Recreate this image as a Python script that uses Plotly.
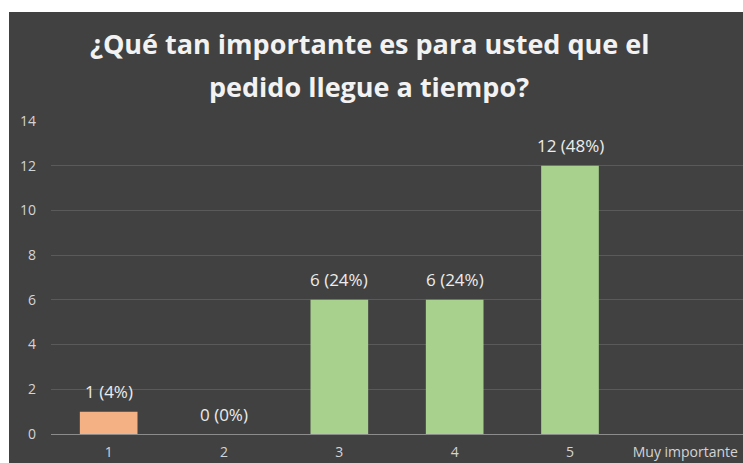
import plotly.graph_objects as go

categories = ["1", "2", "3", "4", "5", "Muy importante"]
values = [1, 0, 6, 6, 12, None]
percents = [4, 0, 24, 24, 48, None]
bar_colors = ["#F4B183", "#A9D18E", "#A9D18E", "#A9D18E", "#A9D18E", "#A9D18E"]
title_lines = ["¿Qué tan importante es para usted que el", "pedido llegue a tiempo?"]
y_ticks = [0, 2, 4, 6, 8, 10, 12, 14]

W, H = 743, 463
ML, MR, MT, MB = 51, 0, 121, 29
PW, PH = W - ML - MR, H - MT - MB

fig = go.Figure()
fig.add_trace(go.Bar(
    x=categories, y=values, marker=dict(color=bar_colors, line=dict(width=0)),
    width=0.5, hoverinfo="skip", showlegend=False,
))

annotations = []
for i, (v, p) in enumerate(zip(values, percents)):
    if v is None:
        continue
    annotations.append(dict(
        x=i, y=v, xref="x", yref="y", text=f"{v} ({p}%)", showarrow=False,
        yanchor="middle", yshift=20,
        font=dict(family="Open Sans", size=17, color="#ececec"),
    ))

title_y_px = [43, 87]
for line, ypx in zip(title_lines, title_y_px):
    annotations.append(dict(
        x=(369 - ML) / PW, y=(H - MB - ypx) / PH, xref="paper", yref="paper",
        text=f"<b>{line}</b>", showarrow=False, xanchor="center", yanchor="middle",
        font=dict(family="Open Sans", size=27, color="#f2f2f2"),
    ))

fig.update_layout(
    width=W, height=H,
    margin=dict(l=ML, r=MR, t=MT, b=MB, pad=0),
    paper_bgcolor="#ffffff",
    plot_bgcolor="rgba(0,0,0,0)",
    bargap=0.5,
    annotations=annotations,
    shapes=[dict(
        type="rect", xref="paper", yref="paper", layer="below",
        x0=(9 - ML) / PW, x1=1.05, y0=-0.2, y1=(H - MB - 12) / PH,
        fillcolor="#414141", line=dict(width=0),
    )],
    xaxis=dict(
        type="category", categoryorder="array", categoryarray=categories,
        showgrid=False, showline=True, linecolor="#8c8c8c", linewidth=1,
        tickfont=dict(family="Open Sans", size=14, color="#d4d4d4"),
        ticks="", ticklabelstandoff=5, fixedrange=True,
    ),
    yaxis=dict(
        range=[0, 14], tickvals=y_ticks, showgrid=True, gridcolor="#5a5a5a",
        gridwidth=1, zeroline=False, showline=False,
        tickfont=dict(family="Open Sans", size=14, color="#d4d4d4"),
        ticklabelstandoff=14, fixedrange=True,
    ),
)

fig.write_html("out.html")
